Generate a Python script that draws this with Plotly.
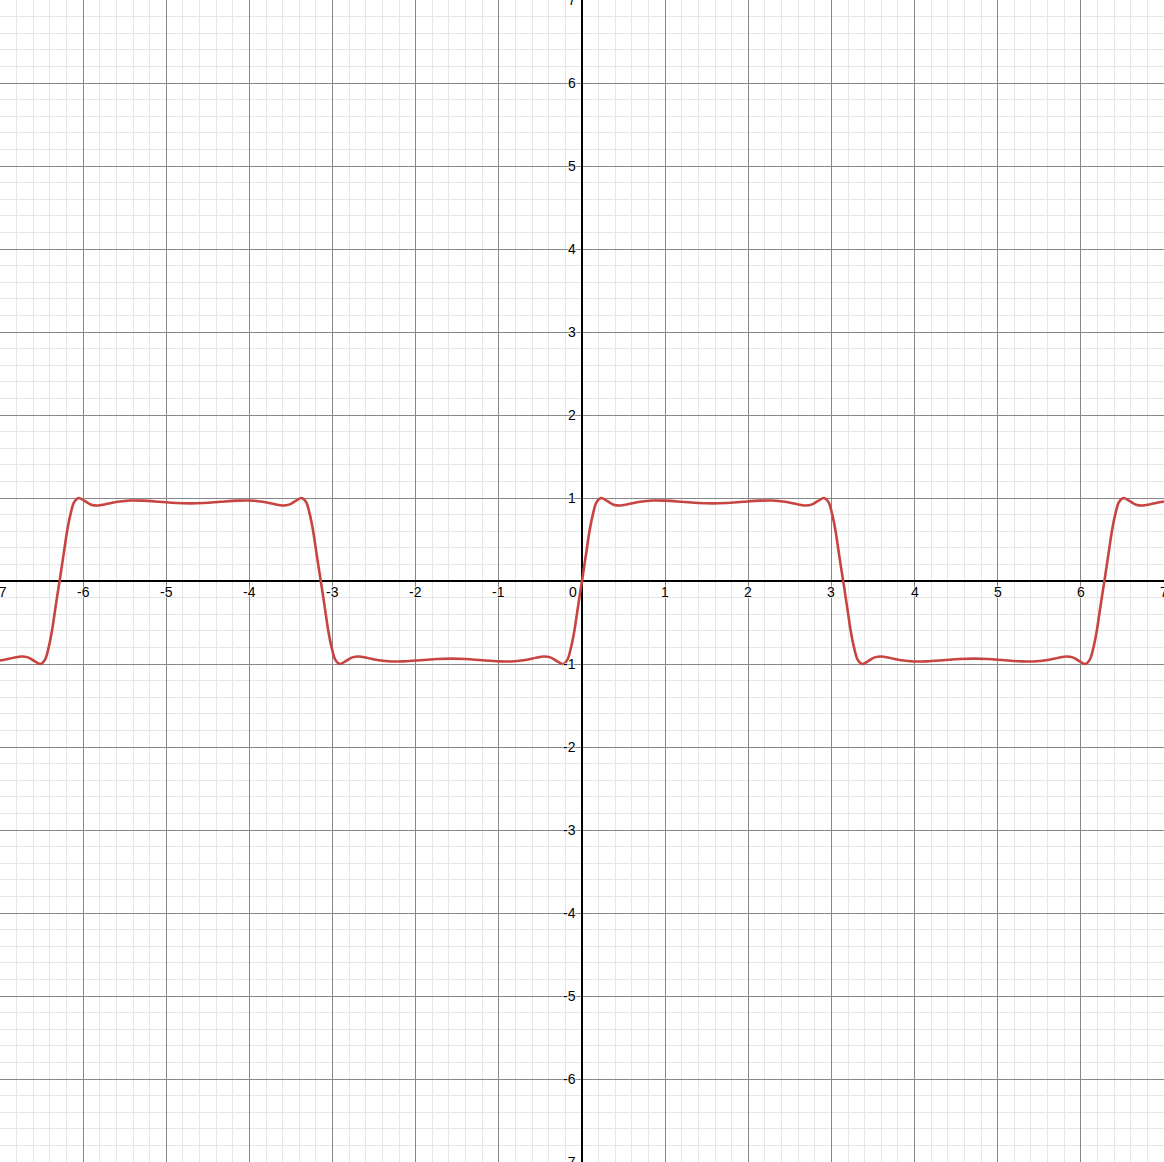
import plotly.graph_objects as go

# One half-period of the plotted curve (offset from a zero crossing -> value)
profile_t = [0, 0.03, 0.06, 0.09, 0.13, 0.175, 0.23, 0.3, 0.38, 0.46, 0.55, 0.7, 0.85, 1.0,
             1.2, 1.4, 1.571, 1.74, 1.94, 2.14, 2.29, 2.44, 2.59, 2.68, 2.76, 2.84, 2.91,
             2.965, 3.01, 3.05, 3.08, 3.11, 3.1416]
profile_v = [0, 0.2, 0.4, 0.6, 0.8, 0.95, 1.0, 0.965, 0.92, 0.91, 0.925, 0.955, 0.97, 0.968,
             0.955, 0.94, 0.935, 0.94, 0.955, 0.968, 0.97, 0.955, 0.925, 0.91, 0.92, 0.965, 1.0,
             0.95, 0.8, 0.6, 0.4, 0.2, 0]
# zero crossings where each half-period starts, and whether it lies above (+1) or below (-1)
segment_starts = [-9.4248, -6.2832, -3.1416, 0.0, 3.1416, 6.2832]
segment_signs = [-1, 1, -1, 1, -1, 1]

x_ticks = [-7, -6, -5, -4, -3, -2, -1, 1, 2, 3, 4, 5, 6, 7]
y_ticks = [-7, -6, -5, -4, -3, -2, -1, 1, 2, 3, 4, 5, 6, 7]

xs, ys = [], []
for i, (a, s) in enumerate(zip(segment_starts, segment_signs)):
    n = len(profile_t) if i == len(segment_starts) - 1 else len(profile_t) - 1
    for t, v in zip(profile_t[:n], profile_v[:n]):
        xs.append(a + t)
        ys.append(s * v)

fig = go.Figure()
fig.add_trace(go.Scatter(x=xs, y=ys, mode="lines",
                         line=dict(color="#c74440", width=2.6, shape="spline"),
                         hoverinfo="skip", showlegend=False))

major = "rgb(135,135,135)"
minor = "rgb(230,230,230)"
minor_vals = [k / 5 for k in range(-40, 41) if k % 5 != 0]
major_vals = list(range(-8, 9))
axis_common = dict(showticklabels=False, ticks="", showline=False,
                   showgrid=True, gridcolor=major, gridwidth=1,
                   tickmode="array", tickvals=major_vals,
                   minor=dict(tickmode="array", tickvals=minor_vals, showgrid=True,
                              gridcolor=minor, gridwidth=1, ticks=""),
                   zeroline=True, zerolinecolor="#000000", zerolinewidth=2)
fig.update_xaxes(range=[-7.0, 7.0], **axis_common)
fig.update_yaxes(range=[-7.0, 7.0], **axis_common)

lab_font = dict(family="Liberation Sans, Arial, sans-serif", size=14, color="#000000",
                shadow="0px 0px 2px #ffffff, 0px 0px 2px #ffffff, 0px 0px 2px #ffffff")
ann = []
for v in x_ticks:
    ann.append(dict(x=v, y=0, xref="x", yref="y", text=str(v), showarrow=False,
                    xanchor="center", yanchor="middle", yshift=-11, font=lab_font))
for v in y_ticks:
    ann.append(dict(x=0, y=v, xref="x", yref="y", text=str(v), showarrow=False,
                    xanchor="right", yanchor="middle", xshift=-4, font=lab_font))
ann.append(dict(x=0, y=0, xref="x", yref="y", text="0", showarrow=False,
                xanchor="right", yanchor="middle", xshift=-3, yshift=-11, font=lab_font))

fig.update_layout(width=1164, height=1162, margin=dict(l=0, r=0, t=0, b=0),
                  paper_bgcolor="white", plot_bgcolor="white", annotations=ann,
                  showlegend=False)

fig.write_html("out.html")
